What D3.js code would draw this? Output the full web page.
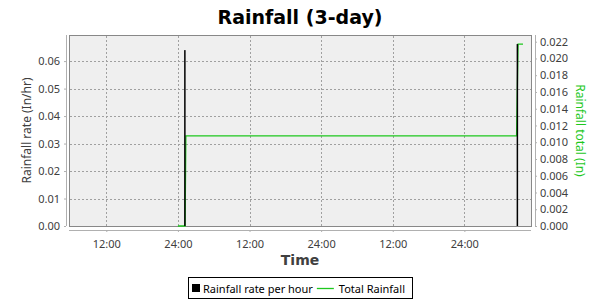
<!DOCTYPE html>
<html>
<head>
<meta charset="utf-8">
<script src="https://cdn.jsdelivr.net/npm/d3@7"></script>
<style>
body { margin: 0; background: #fff; }
text { font-family: "Noto Sans", "DejaVu Sans", sans-serif; }
</style>
</head>
<body>
<script>
// chart data
var rateTimes = ["2024-03-02T01:10", "2024-03-04T08:53"];
var rateValues = [0.0640, 0.0662];
var totalTimes = ["2024-03-02T00:00", "2024-03-02T01:12", "2024-03-02T01:20", "2024-03-04T08:45", "2024-03-04T09:00", "2024-03-04T09:50"];
var totalValues = [0, 0, 0.01075, 0.01075, 0.0217, 0.0217];
var xDomain = ["2024-03-01T05:45", "2024-03-04T11:10"];
var leftTicks = [0, 0.01, 0.02, 0.03, 0.04, 0.05, 0.06];
var rightTicks = [0, 0.002, 0.004, 0.006, 0.008, 0.010, 0.012, 0.014, 0.016, 0.018, 0.020, 0.022];
var legendLabels = ["Rainfall rate per hour", "Total Rainfall"];

var parse = d3.timeParse("%Y-%m-%dT%H:%M");
var green = "#1ec81e";

var svg = d3.select("body").append("svg")
	.attr("width", 600)
	.attr("height", 300);

var pLeft = 69, pRight = 531, pTop = 35, pBottom = 226;

var x = d3.scaleTime().domain(xDomain.map(parse)).range([pLeft, pRight]);
var yL = d3.scaleLinear().domain([0, 0.0695]).range([pBottom, pTop]);
var yR = d3.scaleLinear().domain([0, 0.0228]).range([pBottom, pTop]);

// title
svg.append("text")
	.attr("x", 300).attr("y", 24)
	.attr("text-anchor", "middle")
	.style("font-family", "DejaVu Sans")
	.style("font-size", "19px").style("font-weight", "bold")
	.text("Rainfall (3-day)");

// plot background
svg.append("rect")
	.attr("x", pLeft + 0.5).attr("y", pTop + 0.5)
	.attr("width", pRight - pLeft).attr("height", pBottom - pTop)
	.attr("fill", "#efefef").attr("stroke", "#888").attr("stroke-width", 1);

var xTicks = x.ticks(d3.timeHour.every(12));
var fmt = function (d) { return d.getHours() == 0 ? "24:00" : d3.timeFormat("%H:%M")(d); };

// grid
svg.append("g").selectAll("line")
	.data(xTicks).enter().append("line")
	.attr("x1", function (d) { return Math.round(x(d)) + 0.5; })
	.attr("x2", function (d) { return Math.round(x(d)) + 0.5; })
	.attr("y1", pTop + 1).attr("y2", pBottom)
	.attr("stroke", "#a0a0a0").attr("stroke-dasharray", "2,2");
svg.append("g").selectAll("line")
	.data(leftTicks.slice(1)).enter().append("line")
	.attr("x1", pLeft + 1).attr("x2", pRight)
	.attr("y1", function (d) { return Math.round(yL(d)) + 0.5; })
	.attr("y2", function (d) { return Math.round(yL(d)) + 0.5; })
	.attr("stroke", "#a0a0a0").attr("stroke-dasharray", "2,2");

// axes
var gx = svg.append("g").attr("transform", "translate(0,230)")
	.call(d3.axisBottom(x).tickValues(xTicks).tickFormat(fmt).tickSize(2).tickPadding(8));
var gl = svg.append("g").attr("transform", "translate(66,0)")
	.call(d3.axisLeft(yL).tickValues(leftTicks).tickFormat(d3.format(".2f")).tickSize(2).tickPadding(4));
var gr = svg.append("g").attr("transform", "translate(535,0)")
	.call(d3.axisRight(yR).tickValues(rightTicks).tickFormat(d3.format(".3f")).tickSize(2).tickPadding(3));
[gx, gl, gr].forEach(function (g) {
	g.selectAll("path").attr("stroke", "#b0b0b0");
	g.selectAll("line").attr("stroke", "#b0b0b0");
	g.selectAll("text").attr("fill", "#404040").style("font-size", "11px");
});
gx.select(".domain").attr("d", "M" + pLeft + ",0.5H" + pRight);
gl.select(".domain").attr("d", "M0.5," + pTop + "V" + pBottom);
gr.select(".domain").attr("d", "M0.5," + pTop + "V" + pBottom);

// axis labels
svg.append("text")
	.attr("transform", "translate(31," + (pTop + pBottom) / 2 + ") rotate(-90)")
	.attr("text-anchor", "middle").attr("fill", "#404040")
	.style("font-size", "12px")
	.text("Rainfall rate (In/hr)");
svg.append("text")
	.attr("transform", "translate(576," + (pTop + pBottom) / 2 + ") rotate(90)")
	.attr("text-anchor", "middle").attr("fill", green)
	.style("font-size", "12px")
	.text("Rainfall total (In)");
svg.append("text")
	.attr("x", 300).attr("y", 265)
	.attr("text-anchor", "middle").attr("fill", "#404040")
	.style("font-family", "DejaVu Sans")
	.style("font-size", "14px").style("font-weight", "bold")
	.text("Time");

// total rainfall line
var totals = totalTimes.map(function (t, i) { return [parse(t), totalValues[i]]; });
svg.append("path")
	.datum(totals)
	.attr("d", d3.line().x(function (d) { return x(d[0]); }).y(function (d) { return yR(d[1]); }))
	.attr("fill", "none").attr("stroke", green).attr("stroke-width", 1.3);

// rate bars
svg.append("g").selectAll("rect")
	.data(rateTimes).enter().append("rect")
	.attr("x", function (d) { return x(parse(d)) - 0.75; })
	.attr("width", 1.5)
	.attr("y", function (d, i) { return yL(rateValues[i]); })
	.attr("height", function (d, i) { return pBottom - yL(rateValues[i]); })
	.attr("fill", "#000");

// legend
var lg = svg.append("g");
lg.append("rect").attr("x", 188.5).attr("y", 277.5).attr("width", 224).attr("height", 21)
	.attr("fill", "#fff").attr("stroke", "#000");
lg.append("rect").attr("x", 192).attr("y", 284).attr("width", 8).attr("height", 8).attr("fill", "#000");
var t1 = lg.append("text").attr("x", 203).attr("y", 292.5).style("font-size", "11px").text(legendLabels[0]);
var w1 = t1.node().getComputedTextLength();
lg.append("line").attr("x1", 207 + w1).attr("x2", 224 + w1).attr("y1", 288.5).attr("y2", 288.5)
	.attr("stroke", green).attr("stroke-width", 1.3);
lg.append("text").attr("x", 229 + w1).attr("y", 292.5).style("font-size", "11px").text(legendLabels[1]);
</script>
</body>
</html>
